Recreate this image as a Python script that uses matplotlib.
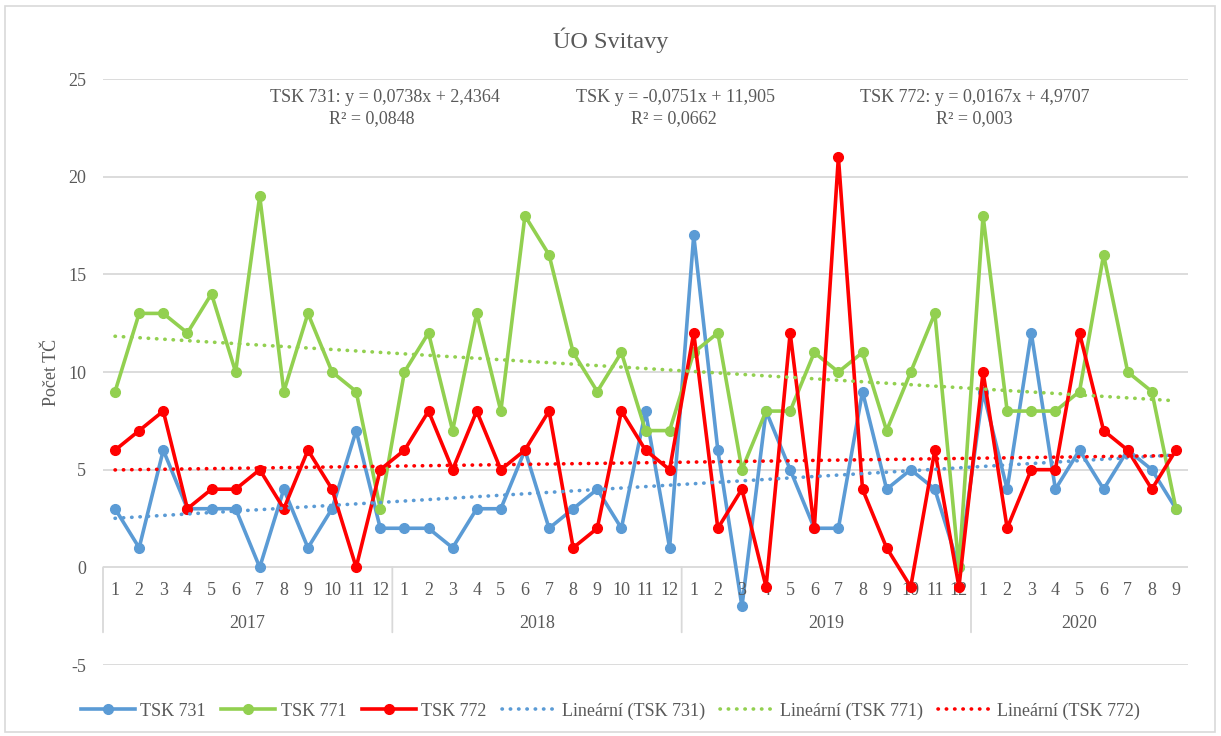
import numpy as np
import matplotlib
matplotlib.use("Agg")
import matplotlib.pyplot as plt
from matplotlib.patches import Rectangle

plt.rcParams['font.family'] = ['Liberation Serif', 'DejaVu Serif']

years = ["2017", "2018", "2019", "2020"]
months_per_year = [12, 12, 12, 9]

tsk731 = [3, 1, 6, 3, 3, 3, 0, 4, 1, 3, 7, 2,
          2, 2, 1, 3, 3, 6, 2, 3, 4, 2, 8, 1,
          17, 6, -2, 8, 5, 2, 2, 9, 4, 5, 4, 0,
          9, 4, 12, 4, 6, 4, 6, 5, 3]
tsk771 = [9, 13, 13, 12, 14, 10, 19, 9, 13, 10, 9, 3,
          10, 12, 7, 13, 8, 18, 16, 11, 9, 11, 7, 7,
          11, 12, 5, 8, 8, 11, 10, 11, 7, 10, 13, 0,
          18, 8, 8, 8, 9, 16, 10, 9, 3]
tsk772 = [6, 7, 8, 3, 4, 4, 5, 3, 6, 4, 0, 5,
          6, 8, 5, 8, 5, 6, 8, 1, 2, 8, 6, 5,
          12, 2, 4, -1, 12, 2, 21, 4, 1, -1, 6, -1,
          10, 2, 5, 5, 12, 7, 6, 4, 6]

series_names = ["TSK 731", "TSK 771", "TSK 772"]
trend_names = ["Lineární (TSK 731)", "Lineární (TSK 771)", "Lineární (TSK 772)"]
eq_lines = [("TSK 731: y = 0,0738x + 2,4364", "R² = 0,0848"),
            ("TSK y = -0,0751x + 11,905", "R² = 0,0662"),
            ("TSK 772: y = 0,0167x + 4,9707", "R² = 0,003")]
title = "ÚO Svitavy"
ylabel = "Počet TČ"
yticks = [-5, 0, 5, 10, 15, 20, 25]

colors = ["#5B9BD5", "#92D050", "#FF0000"]
text_col = "#595959"
grid_col = "#D9D9D9"

W, H = 1221, 736
fig = plt.figure(figsize=(W / 100, H / 100), dpi=100)
fig.patches.append(Rectangle((5 / W, 4 / H), 1 - 11 / W, 1 - 10 / H, transform=fig.transFigure,
                             fill=False, edgecolor=grid_col, linewidth=1.2))

ax = fig.add_axes([103 / W, 1 - 665 / H, (1188 - 103) / W, (665 - 79) / H])
for s in ax.spines.values():
    s.set_visible(False)

n = len(tsk731)
x = np.arange(n)
ax.set_xlim(-0.5, n - 0.5)
ax.set_ylim(-5, 25)

for yv in yticks:
    ax.axhline(yv, color=grid_col, linewidth=1.3, zorder=0)
ax.set_yticks(yticks)
ax.set_yticklabels([str(v) for v in yticks])
ax.tick_params(axis='y', length=0, pad=12, labelsize=13, labelcolor=text_col)
ax.set_xticks([])
ax.set_ylabel(ylabel, fontsize=13, color=text_col, labelpad=6)

data = [tsk731, tsk771, tsk772]
handles = []
for i, (d, c, nm) in enumerate(zip(data, colors, series_names)):
    h, = ax.plot(x, d, color=c, linewidth=2.6, marker='o', markersize=7, zorder=2 + i,
                 solid_joinstyle='round', label=nm)
    handles.append(h)

xt = x + 1
for i, (d, c, nm) in enumerate(zip(data, colors, trend_names)):
    k, q = np.polyfit(xt, d, 1)
    h, = ax.plot(x, k * xt + q, color=c, linewidth=2.6, linestyle=(0, (0.1, 2.2)),
                 dash_capstyle='round', zorder=6, label=nm)
    handles.append(h)

# category axis (months / years)
start = 0
for yr, cnt in zip(years, months_per_year):
    b = start - 0.5
    ax.annotate("", xy=(b, 0), xycoords='data', xytext=(0, -65), textcoords='offset pixels',
                arrowprops=dict(arrowstyle='-', color=grid_col, lw=1.3, shrinkA=0, shrinkB=0))
    for m in range(cnt):
        ax.annotate(str(m + 1), xy=(start + m, 0), xytext=(0, -23), textcoords='offset pixels',
                    ha='center', va='center', fontsize=13, color=text_col)
    ax.annotate(yr, xy=(start + (cnt - 1) / 2, 0), xytext=(0, -56), textcoords='offset pixels',
                ha='center', va='center', fontsize=13, color=text_col)
    start += cnt

# trendline equations
eq_pos = [(385, 372), (676, 674), (975, 974)]
for (l1, l2), (c1, c2) in zip(eq_lines, eq_pos):
    fig.text(c1 / W, 1 - 98 / H, l1, ha='center', va='center', fontsize=13, color=text_col)
    fig.text(c2 / W, 1 - 119 / H, l2, ha='center', va='center', fontsize=13, color=text_col)

fig.text(0.5, 1 - 40 / H, title, ha='center', va='center', fontsize=17.5, color=text_col)

fig.legend(handles=handles, loc='center', bbox_to_anchor=(0.5, 1 - 711 / H), ncol=6,
           frameon=False, fontsize=13, handlelength=3.0, handletextpad=0.3, columnspacing=0.85,
           labelcolor=text_col)

fig.savefig("out.png", dpi=100)
